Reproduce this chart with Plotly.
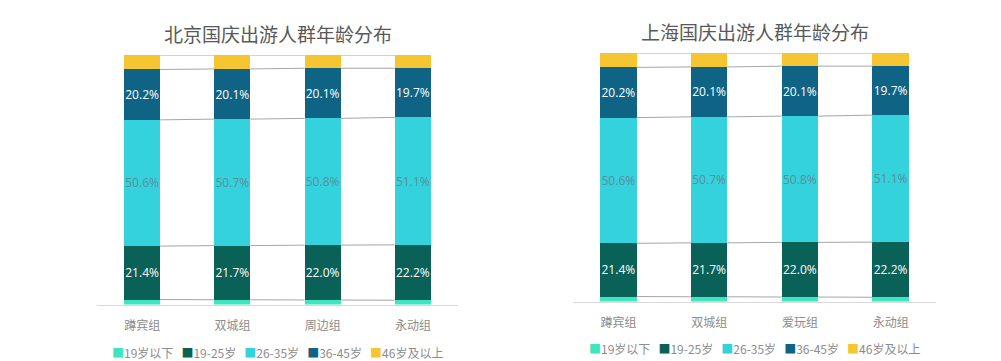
import plotly.graph_objects as go

# ---- data ----
titles = ["北京国庆出游人群年龄分布", "上海国庆出游人群年龄分布"]
bj_groups = ["蹲宾组", "双城组", "周边组", "永动组"]
sh_groups = ["蹲宾组", "双城组", "爱玩组", "永动组"]
series_names = ["19岁以下", "19-25岁", "26-35岁", "36-45岁", "46岁及以上"]

under19 = [2.0, 1.9, 1.8, 1.7]
age19_25 = [21.4, 21.7, 22.0, 22.2]
age26_35 = [50.6, 50.7, 50.8, 51.1]
age36_45 = [20.2, 20.1, 20.1, 19.7]
over46 = [5.8, 5.6, 5.3, 5.3]

bj_values = [under19, age19_25, age26_35, age36_45, over46]
sh_values = [under19, age19_25, age26_35, age36_45, over46]

# ---- styles ----
colors = ["#3de6be", "#0a6157", "#33d2dc", "#0f6485", "#f6c532"]
label_colors = [None, "#ffffff", "#5b8f9c", "#ffffff", None]
FONT = "Noto Sans CJK SC, Open Sans, sans-serif"
NUMFONT = "Open Sans, Noto Sans CJK SC, sans-serif"

# page body has an 8px default margin; work in page pixels and shift
OFF = 8
W, H = 1001 - OFF, 361 - OFF
fig = go.Figure()

def px(x):
    return (x - OFF) / W

def py(y):
    return 1 - (y - OFF) / H

panels = [
    dict(groups=bj_groups, values=bj_values, xa="x", ya="y", xd=(97, 458), yd=(55, 304.5),
         title_y=33, legend_y=352),
    dict(groups=sh_groups, values=sh_values, xa="x2", ya="y2", xd=(573, 936), yd=(53, 301.5),
         title_y=32, legend_y=348),
]

annotations = []
for p_i, p in enumerate(panels):
    xs = list(range(len(p["groups"])))
    # stacked bars
    for s_i, (name, vals) in enumerate(zip(series_names, p["values"])):
        show_text = label_colors[s_i] is not None
        fig.add_trace(go.Bar(
            x=xs, y=vals, name=name, xaxis=p["xa"], yaxis=p["ya"],
            width=0.4, marker=dict(color=colors[s_i], line=dict(width=0)),
            text=[f"{v:.1f}%" for v in vals] if show_text else None,
            textposition="inside" if show_text else "none",
            insidetextanchor="middle", textangle=0, constraintext="none",
            textfont=dict(family=NUMFONT, size=12, color=label_colors[s_i] or "#fff"),
            showlegend=False, hoverinfo="skip",
        ))
    # series connector lines
    cum = [0.0] * len(xs)
    for s_i, vals in enumerate(p["values"]):
        cum = [c + v for c, v in zip(cum, vals)]
        for i in range(len(xs) - 1):
            fig.add_trace(go.Scatter(
                x=[xs[i] + 0.2, xs[i + 1] - 0.2], y=[cum[i], cum[i + 1]],
                mode="lines", line=dict(color="#a6a6a6", width=1),
                xaxis=p["xa"], yaxis=p["ya"], showlegend=False, hoverinfo="skip",
            ))
    # title
    cx = px((p["xd"][0] + p["xd"][1]) / 2)
    annotations.append(dict(
        text=titles[p_i], x=cx, y=py(p["title_y"]), xref="paper", yref="paper",
        xanchor="center", yanchor="middle", showarrow=False,
        font=dict(family=FONT, size=19, color="#595959"),
    ))
    # legend (manual, as text)
    parts = []
    for c, n in zip(colors, series_names):
        parts.append(f'<span style="color:{c}">■</span>{n}')
    annotations.append(dict(
        text="\u00a0\u00a0\u00a0".join(parts), x=cx, y=py(p["legend_y"]),
        xref="paper", yref="paper", xanchor="center", yanchor="middle", showarrow=False,
        font=dict(family=FONT, size=12, color="#8c8c8c"),
    ))

def xaxis_cfg(p):
    return dict(
        domain=[px(p["xd"][0]), px(p["xd"][1])], range=[-0.5, 3.5],
        tickvals=list(range(len(p["groups"]))), ticktext=p["groups"],
        showgrid=False, zeroline=False, showline=True, linecolor="#d9d9d9", linewidth=1,
        ticks="", tickfont=dict(family=FONT, size=12, color="#8c8c8c"), ticklabelstandoff=10,
        fixedrange=True,
    )

def yaxis_cfg(p, anchor):
    return dict(
        domain=[py(p["yd"][1]), py(p["yd"][0])], range=[0, 100],
        showgrid=False, zeroline=False, showticklabels=False, showline=False,
        anchor=anchor, fixedrange=True,
    )

fig.update_layout(
    width=W, height=H, margin=dict(l=0, r=0, t=0, b=0),
    paper_bgcolor="white", plot_bgcolor="white", barmode="stack",
    xaxis=dict(xaxis_cfg(panels[0]), anchor="y"),
    yaxis=yaxis_cfg(panels[0], "x"),
    xaxis2=dict(xaxis_cfg(panels[1]), anchor="y2"),
    yaxis2=yaxis_cfg(panels[1], "x2"),
    annotations=annotations, showlegend=False,
    font=dict(family=FONT),
)

fig.write_html("out.html")
